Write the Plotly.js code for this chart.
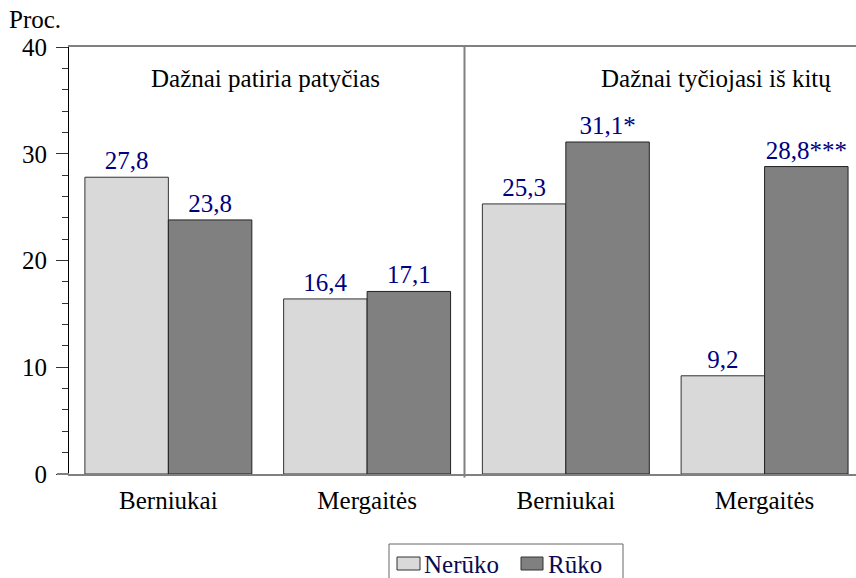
<!DOCTYPE html>
<html>
<head>
<meta charset="utf-8">
<script src="https://cdn.plot.ly/plotly-3.0.1.min.js"></script>
<style>html,body{margin:0;padding:0;background:#fff;}#chart{width:856px;height:578px;}</style>
</head>
<body>
<div id="chart"></div>
<div id="dbg" style="position:absolute;left:0;top:0;width:1px;height:1px;overflow:hidden;"></div>
<script>
// ---- data ----
const categories = ['Berniukai', 'Mergaitės', 'Berniukai', 'Mergaitės'];
const positions = [0, 1, 2, 3];
const nerukoValues = [27.8, 16.4, 25.3, 9.2];
const rukoValues = [23.8, 17.1, 31.1, 28.8];
const nerukoLabels = ['27,8', '16,4', '25,3', '9,2'];
const rukoLabels = ['23,8', '17,1', '31,1*', '28,8***'];
const seriesNames = ['Nerūko', 'Rūko'];
const panelTitles = ['Dažnai patiria patyčias', 'Dažnai tyčiojasi iš kitų'];
const yTicks = [0, 10, 20, 30, 40];

const FONT = 'Liberation Serif';
const FS = 25;
const LIGHT = '#d9d9d9', DARK = '#808080';

const traces = [
  {type: 'bar', name: seriesNames[0], x: positions, y: nerukoValues, text: nerukoLabels,
   textposition: 'outside', cliponaxis: false, textfont: {family: FONT, size: FS, color: '#000080'},
   marker: {color: LIGHT, line: {color: '#333', width: 1}}, showlegend: false, hoverinfo: 'none'},
  {type: 'bar', name: seriesNames[1], x: positions, y: rukoValues, text: rukoLabels,
   textposition: 'outside', cliponaxis: false, textfont: {family: FONT, size: FS, color: '#000080'},
   marker: {color: DARK, line: {color: '#222', width: 1}}, showlegend: false, hoverinfo: 'none'}
];

const L = 69, T = 47, W = 787, H = 427;
const px = x => (x - L) / W;
const py = y => (T + H - y) / H;

const layout = {
  width: 856, height: 578,
  margin: {l: L, r: 0, t: T, b: 578 - T - H, pad: 0},
  paper_bgcolor: '#fff', plot_bgcolor: '#fff',
  barmode: 'group', bargap: 0.16, bargroupgap: 0,
  font: {family: FONT, size: FS, color: '#000'},
  xaxis: {
    range: [-0.5, 3.46], tickvals: positions, ticktext: categories,
    showline: true, linecolor: '#808080', linewidth: 2, mirror: true,
    ticks: '', showgrid: false, zeroline: false, fixedrange: true, ticklabelstandoff: 3,
    tickfont: {family: FONT, size: FS, color: '#000'}
  },
  yaxis: {
    range: [0, 40], tickvals: yTicks, ticktext: yTicks.map(String),
    showline: true, linecolor: '#000', linewidth: 1,
    ticks: 'outside', ticklen: 12, tickcolor: '#333', tickwidth: 1, ticklabelstandoff: 4,
    minor: {dtick: 2, ticks: 'outside', ticklen: 6, tickcolor: '#333', tickwidth: 1},
    showgrid: false, zeroline: false, fixedrange: true,
    tickfont: {family: FONT, size: FS, color: '#000'}
  },
  shapes: [
    {type: 'line', xref: 'x', yref: 'paper', x0: 1.49, x1: 1.49, y0: -0.008, y1: 1, line: {color: '#808080', width: 2}},
    {type: 'line', xref: 'paper', yref: 'paper', x0: px(57), x1: 0, y0: 0, y1: 0, line: {color: '#808080', width: 2}},
    {type: 'rect', xref: 'paper', yref: 'paper', x0: px(389), x1: px(623), y0: py(544), y1: py(600), line: {color: '#666', width: 1}, fillcolor: '#fff'},
    {type: 'rect', xref: 'paper', yref: 'paper', x0: px(397), x1: px(420), y0: py(557), y1: py(570), line: {color: '#333', width: 1}, fillcolor: LIGHT},
    {type: 'rect', xref: 'paper', yref: 'paper', x0: px(521), x1: px(543), y0: py(557), y1: py(570), line: {color: '#333', width: 1}, fillcolor: DARK}
  ],
  annotations: [
    {xref: 'paper', yref: 'paper', x: px(7), y: py(20), xanchor: 'left', yanchor: 'middle', text: 'Proc.', showarrow: false, font: {family: FONT, size: FS, color: '#000'}},
    {xref: 'paper', yref: 'paper', x: px(265.5), y: py(79), xanchor: 'center', yanchor: 'middle', text: panelTitles[0], showarrow: false, font: {family: FONT, size: FS, color: '#000'}},
    {xref: 'paper', yref: 'paper', x: px(833), y: py(79), xanchor: 'right', yanchor: 'middle', text: panelTitles[1], showarrow: false, font: {family: FONT, size: FS, color: '#000'}},
    {xref: 'paper', yref: 'paper', x: px(422), y: py(564), xanchor: 'left', yanchor: 'middle', text: seriesNames[0], showarrow: false, font: {family: FONT, size: FS, color: '#0a0a50'}},
    {xref: 'paper', yref: 'paper', x: px(546), y: py(564), xanchor: 'left', yanchor: 'middle', text: seriesNames[1], showarrow: false, font: {family: FONT, size: FS, color: '#0a0a50'}}
  ]
};

const config = {displayModeBar: false, staticPlot: true};
function touch() {
  let n = 0;
  document.querySelectorAll('#chart text').forEach(t => { const b = t.getBoundingClientRect(); n += b.width; });
  document.getElementById('dbg').setAttribute('data-w', String(Math.round(n)));
}
Plotly.newPlot('chart', traces, layout, config).then(() => {
  touch();
  return Plotly.newPlot('chart', traces, layout, config);
}).then(() => {
  touch();
  setTimeout(() => { Plotly.newPlot('chart', traces, layout, config).then(touch); }, 60);
});
</script>
</body>
</html>
